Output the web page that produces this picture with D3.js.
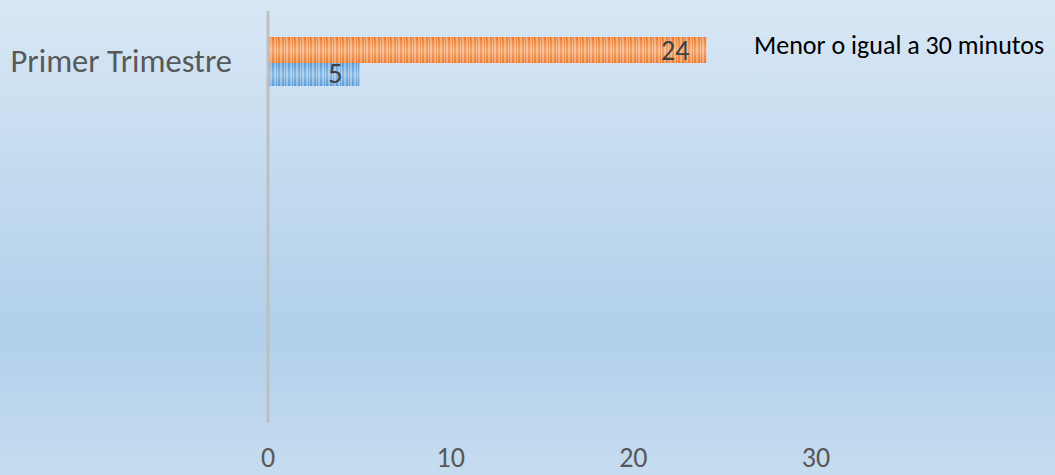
<!DOCTYPE html>
<html>
<head>
<meta charset="utf-8">
<script src="https://cdn.jsdelivr.net/npm/d3@7"></script>
<style>
    html, body { margin: 0; padding: 0; }
    body { width: 1055px; height: 475px; overflow: hidden; }
</style>
</head>
<body>
<div id="grafico"></div>
<script>
// datos del grafico
var categorias = ["Primer Trimestre"];
var serieNombres = ["Menor o igual a 30 minutos", "Mayor a 30 minutos"];
var serieMenor = [24];
var serieMayor = [5];
var ticksX = [0, 10, 20, 30];

var width = 1055, height = 475;
var fuente = "Carlito, Lato, 'Liberation Sans', sans-serif";

var svg = d3.select("#grafico").append("svg")
    .attr("width", width).attr("height", height);

var defs = svg.append("defs");

// fondo degradado
var bg = defs.append("linearGradient").attr("id", "fondo")
    .attr("x1", 0).attr("y1", 0).attr("x2", 0).attr("y2", 1);
bg.append("stop").attr("offset", "0%").attr("stop-color", "#d8e7f5");
bg.append("stop").attr("offset", "70%").attr("stop-color", "#b1d0ea");
bg.append("stop").attr("offset", "100%").attr("stop-color", "#c6dcf0");

svg.append("rect").attr("width", width).attr("height", height).attr("fill", "url(#fondo)");

// brillo horizontal de las barras
var brillo = defs.append("linearGradient").attr("id", "brillo")
    .attr("x1", 0).attr("y1", 0).attr("x2", 0).attr("y2", 1);
brillo.append("stop").attr("offset", "0%").attr("stop-color", "#fff").attr("stop-opacity", 0);
brillo.append("stop").attr("offset", "50%").attr("stop-color", "#fff").attr("stop-opacity", 0.3);
brillo.append("stop").attr("offset", "100%").attr("stop-color", "#fff").attr("stop-opacity", 0);

function crearPatron(id, base, claro) {
    var p = defs.append("pattern").attr("id", id)
        .attr("patternUnits", "userSpaceOnUse")
        .attr("width", 16).attr("height", 10);
    p.append("rect").attr("width", 16).attr("height", 10).attr("fill", claro);
    [[0, 2], [4, 1], [6, 2], [10, 2], [13, 1]].forEach(function(s) {
        p.append("rect").attr("x", s[0]).attr("width", s[1]).attr("height", 10).attr("fill", base);
    });
}
crearPatron("rayasNaranja", "#ed7d31", "#f5a76d");
crearPatron("rayasAzul", "#5b9bd5", "#92bfe8");

var x = d3.scaleLinear().domain([0, 30]).range([268, 816]);

// eje vertical
svg.append("line")
    .attr("x1", x(0)).attr("x2", x(0))
    .attr("y1", 11).attr("y2", 423)
    .attr("stroke", "#bfbfbf").attr("stroke-width", 3);

var series = [
    { nombre: serieNombres[0], valores: serieMenor, patron: "rayasNaranja", y0: 37, h: 26 },
    { nombre: serieNombres[1], valores: serieMayor, patron: "rayasAzul", y0: 63, h: 23 }
];

series.forEach(function(s) {
    s.valores.forEach(function(v, i) {
        var bx = x(0) + 1.5, bw = x(v) - x(0) - 1.5;
        svg.append("rect").attr("x", bx).attr("y", s.y0).attr("width", bw).attr("height", s.h)
            .attr("fill", "url(#" + s.patron + ")");
        svg.append("rect").attr("x", bx).attr("y", s.y0).attr("width", bw).attr("height", s.h)
            .attr("fill", "url(#brillo)");
        svg.append("text")
            .attr("x", x(v) - 17).attr("y", s.y0 + s.h - 3)
            .attr("text-anchor", "end")
            .attr("font-family", fuente)
            .attr("font-size", 28).attr("fill", "#404040")
            .text(v);
    });
});

// etiqueta de categoria
svg.append("text")
    .attr("x", 232).attr("y", 72)
    .attr("text-anchor", "end")
    .attr("font-family", fuente)
    .attr("font-size", 32.5).attr("fill", "#595959")
    .text(categorias[0]);

// etiquetas del eje x
svg.selectAll(".tick").data(ticksX).enter().append("text")
    .attr("x", function(d) { return x(d); })
    .attr("y", 467)
    .attr("text-anchor", "middle")
    .attr("font-family", fuente)
    .attr("font-size", 28).attr("fill", "#595959")
    .text(function(d) { return d; });

// leyenda
svg.append("text")
    .attr("x", 754).attr("y", 54)
    .attr("font-family", fuente)
    .attr("font-size", 26).attr("fill", "#000")
    .text(serieNombres[0]);
</script>
</body>
</html>
